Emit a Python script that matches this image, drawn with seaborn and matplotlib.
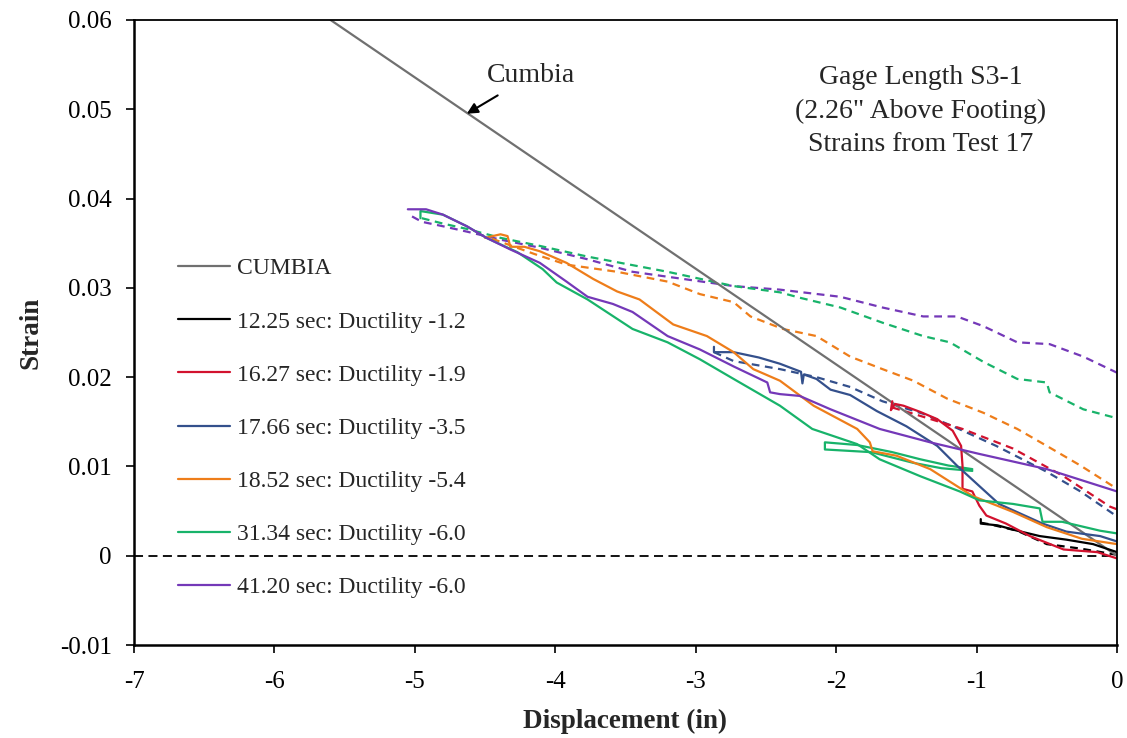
import pandas as pd
import matplotlib
matplotlib.use("Agg")
import matplotlib.pyplot as plt
import seaborn as sns

# estilo
sns.set_theme(style="white")
plt.rcParams['font.family'] = ['Liberation Serif', 'DejaVu Serif']
plt.rcParams['axes.unicode_minus'] = False

# ---- dados ----
cumbia_x = [-5.6, 0.0]
cumbia_y = [0.060, 0.0]

t1225_x = [-0.97, -0.97, -0.85, -0.71, -0.55, -0.36, -0.17, 0.0]
t1225_y = [0.0041, 0.0036, 0.0034, 0.0028, 0.0022, 0.0018, 0.0013, 0.0004]
t1225_dx = [-0.97, -0.90, -0.71, -0.50, -0.26, 0.0]
t1225_dy = [0.0037, 0.0035, 0.0028, 0.0013, 0.0008, 0.0001]

t1627_x = [-1.60, -1.61, -1.58, -1.52, -1.40, -1.28, -1.17, -1.11, -1.10, -1.10, -1.03,
           -0.98, -0.93, -0.79, -0.62, -0.38, -0.14, 0.0]
t1627_y = [0.0173, 0.0163, 0.0170, 0.0168, 0.0161, 0.0153, 0.0140, 0.0123, 0.0101, 0.0075, 0.0072,
           0.0056, 0.0045, 0.0036, 0.0022, 0.0007, 0.0004, -0.0003]
t1627_dx = [-1.60, -1.45, -1.10, -0.74, -0.38, -0.05, 0.0]
t1627_dy = [0.0166, 0.0159, 0.0142, 0.0120, 0.0089, 0.0055, 0.0052]

t1766_x = [-2.87, -2.87, -2.73, -2.55, -2.40, -2.25, -2.24, -2.23, -2.14, -2.04, -1.90, -1.71,
           -1.50, -1.28, -1.14, -0.98, -0.84, -0.53, -0.36, -0.12, 0.0]
t1766_y = [0.0234, 0.0228, 0.0228, 0.0222, 0.0215, 0.0206, 0.0193, 0.0203, 0.0198, 0.0186, 0.0180, 0.0162,
           0.0145, 0.0123, 0.0101, 0.0078, 0.0058, 0.0036, 0.0027, 0.0022, 0.0016]
t1766_dx = [-2.87, -2.73, -2.40, -2.14, -1.90, -1.67, -1.38, -1.14, -0.86, -0.50, -0.26, 0.0]
t1766_dy = [0.0228, 0.0218, 0.0209, 0.0200, 0.0189, 0.0173, 0.0159, 0.0143, 0.0123, 0.0094, 0.0072, 0.0044]

t1852_x = [-4.50, -4.39, -4.34, -4.32, -4.22, -4.11, -3.92, -3.73, -3.56, -3.40, -3.16, -2.92, -2.73,
           -2.59, -2.40, -2.16, -1.85, -1.76, -1.74, -1.57, -1.33, -1.03, -0.74, -0.50, -0.25, 0.0]
t1852_y = [0.0356, 0.0360, 0.0358, 0.0346, 0.0346, 0.0341, 0.0328, 0.0310, 0.0296, 0.0287, 0.0259, 0.0246, 0.0228,
           0.0209, 0.0196, 0.0168, 0.0142, 0.0127, 0.0117, 0.0112, 0.0097, 0.0067, 0.0049, 0.0032, 0.0019, 0.0013]
t1852_dx = [-4.45, -4.15, -3.92, -3.56, -3.20, -2.97, -2.73, -2.61, -2.38, -2.14, -1.90, -1.67, -1.45,
            -1.21, -0.95, -0.71, -0.50, -0.26, 0.0]
t1852_dy = [0.0355, 0.0338, 0.0326, 0.0318, 0.0307, 0.0293, 0.0284, 0.0268, 0.0254, 0.0246, 0.0223, 0.0209, 0.0196,
            0.0176, 0.0160, 0.0142, 0.0123, 0.0101, 0.0075]

t3134_x = [-4.96, -4.96, -4.80, -4.63, -4.49, -4.27, -4.09, -3.99, -3.77, -3.45, -3.20, -2.97, -2.73,
           -2.40, -2.17, -1.85, -1.69, -1.40, -1.12, -0.98, -0.74, -0.55, -0.53, -0.39, -0.12, 0.0]
t3134_y = [0.0378, 0.0386, 0.0382, 0.0369, 0.0356, 0.0340, 0.0321, 0.0306, 0.0287, 0.0254, 0.0239, 0.0220, 0.0198,
           0.0168, 0.0142, 0.0125, 0.0108, 0.0089, 0.0072, 0.0062, 0.0058, 0.0053, 0.0038, 0.0038, 0.0028, 0.0025]
t3134_lx = [-1.03, -1.25, -1.45, -1.75, -2.08, -2.08, -1.85, -1.60, -1.40, -1.20, -1.03]
t3134_ly = [0.0095, 0.0098, 0.0104, 0.0116, 0.0119, 0.0127, 0.0124, 0.0116, 0.0108, 0.0101, 0.0097]
t3134_dx = [-4.95, -4.80, -4.63, -4.39, -4.11, -3.77, -3.20, -2.73, -2.40, -2.26, -1.97, -1.67, -1.38,
            -1.19, -0.95, -0.71, -0.50, -0.48, -0.24, 0.0]
t3134_dy = [0.0378, 0.0372, 0.0366, 0.0356, 0.0347, 0.0335, 0.0318, 0.0302, 0.0295, 0.0289, 0.0278, 0.0261, 0.0246,
            0.0239, 0.0217, 0.0198, 0.0194, 0.0183, 0.0164, 0.0154]

t4120_x = [-5.05, -4.92, -4.80, -4.63, -4.49, -4.32, -4.11, -3.92, -3.77, -3.59, -3.45, -3.20, -2.97,
           -2.73, -2.49, -2.47, -2.40, -2.26, -2.04, -1.69, -1.33, -0.98, -0.50, 0.0]
t4120_y = [0.0388, 0.0388, 0.0382, 0.0369, 0.0356, 0.0343, 0.0328, 0.0307, 0.0290, 0.0282, 0.0273, 0.0246, 0.0231,
           0.0212, 0.0194, 0.0183, 0.0181, 0.0179, 0.0164, 0.0142, 0.0127, 0.0114, 0.0097, 0.0072]
t4120_dx = [-5.02, -4.95, -4.80, -4.63, -4.39, -4.11, -3.77, -3.45, -3.09, -2.73, -2.40, -1.97, -1.67,
            -1.38, -1.14, -0.95, -0.71, -0.48, -0.24, 0.0]
t4120_dy = [0.0380, 0.0374, 0.0369, 0.0363, 0.0354, 0.0345, 0.0332, 0.0318, 0.0310, 0.0302, 0.0298, 0.0290, 0.0278,
            0.0268, 0.0268, 0.0257, 0.0239, 0.0237, 0.0223, 0.0205]

x_ticks = [-7, -6, -5, -4, -3, -2, -1, 0]
y_ticks = [-0.01, 0.0, 0.01, 0.02, 0.03, 0.04, 0.05, 0.06]
y_tick_labels = ['-0.01', '0', '0.01', '0.02', '0.03', '0.04', '0.05', '0.06']

# séries: (rótulo, cor, sólida, tracejada)
series = [
    ('12.25 sec: Ductility -1.2', '#000000', (t1225_x, t1225_y), (t1225_dx, t1225_dy)),
    ('16.27 sec: Ductility -1.9', '#D2122E', (t1627_x, t1627_y), (t1627_dx, t1627_dy)),
    ('17.66 sec: Ductility -3.5', '#34508C', (t1766_x, t1766_y), (t1766_dx, t1766_dy)),
    ('18.52 sec: Ductility -5.4', '#EE7D1A', (t1852_x, t1852_y), (t1852_dx, t1852_dy)),
    ('31.34 sec: Ductility -6.0', '#18B36A', (t3134_x, t3134_y), (t3134_dx, t3134_dy)),
    ('41.20 sec: Ductility -6.0', '#7438B8', (t4120_x, t4120_y), (t4120_dx, t4120_dy)),
]

FS = 17
fig = plt.figure(figsize=(11.27, 7.38), dpi=100)
ax = fig.add_axes([0.1189, 0.126, 0.8722, 0.8469])

# linha do zero
ax.axhline(0, color='black', lw=1.3, ls=(0, (5, 3)), zorder=1)

# tracejadas primeiro (por baixo)
for nome, cor, sol, tra in series[::-1]:
    df = pd.DataFrame({'x': tra[0], 'y': tra[1]})
    sns.lineplot(data=df, x='x', y='y', sort=False, estimator=None, color=cor,
                 lw=1.6, ax=ax, label='_nolegend_').lines[-1].set_dashes((3.5, 2.5))

# laço da série 31.34
sns.lineplot(data=pd.DataFrame({'x': t3134_lx, 'y': t3134_ly}), x='x', y='y', sort=False,
             estimator=None, color='#18B36A', lw=1.6, ax=ax, label='_nolegend_')

# cumbia
sns.lineplot(data=pd.DataFrame({'x': cumbia_x, 'y': cumbia_y}), x='x', y='y', sort=False,
             estimator=None, color='#707070', lw=1.6, ax=ax, label='CUMBIA')

for nome, cor, sol, tra in series:
    df = pd.DataFrame({'x': sol[0], 'y': sol[1]})
    sns.lineplot(data=df, x='x', y='y', sort=False, estimator=None, color=cor,
                 lw=1.6, ax=ax, label=nome)

ax.set_xlim(-7, 0)
ax.set_ylim(-0.01, 0.06)
ax.set_xticks(x_ticks)
ax.set_xticklabels([str(v) for v in x_ticks])
ax.set_yticks(y_ticks)
ax.set_yticklabels(y_tick_labels)
ax.tick_params(axis='both', which='major', direction='out', length=6, width=1.2,
               labelsize=FS + 1, color='black', labelcolor='black', bottom=True, left=True)
ax.tick_params(axis='x', pad=13)
ax.tick_params(axis='y', pad=10)

for lado in ['left', 'bottom']:
    ax.spines[lado].set_linewidth(1.8)
for lado in ['top', 'right']:
    ax.spines[lado].set_linewidth(1.3)
for s in ax.spines.values():
    s.set_color('black')

ax.set_xlabel('Displacement (in)', fontsize=19.5, fontweight='bold', labelpad=11)
ax.set_ylabel('Strain', fontsize=19.5, fontweight='bold', labelpad=12)

# anotações
ax.annotate('Cumbia', xy=(-4.63, 0.0495), xytext=(-4.17, 0.0538), fontsize=20,
            ha='center', va='center',
            arrowprops=dict(arrowstyle='-|>', color='black', lw=1.5, shrinkA=6, shrinkB=0,
                            mutation_scale=16))
ax.text(-1.40, 0.0498, 'Gage Length S3-1\n(2.26" Above Footing)\nStrains from Test 17',
        fontsize=20, ha='center', va='center', linespacing=1.45)

ax.legend(loc='center left', bbox_to_anchor=(0.035, 0.347), borderaxespad=0, frameon=False,
          fontsize=FS, handlelength=2.2, handletextpad=0.3, labelspacing=1.34)

fig.savefig('out.png', dpi=100)
